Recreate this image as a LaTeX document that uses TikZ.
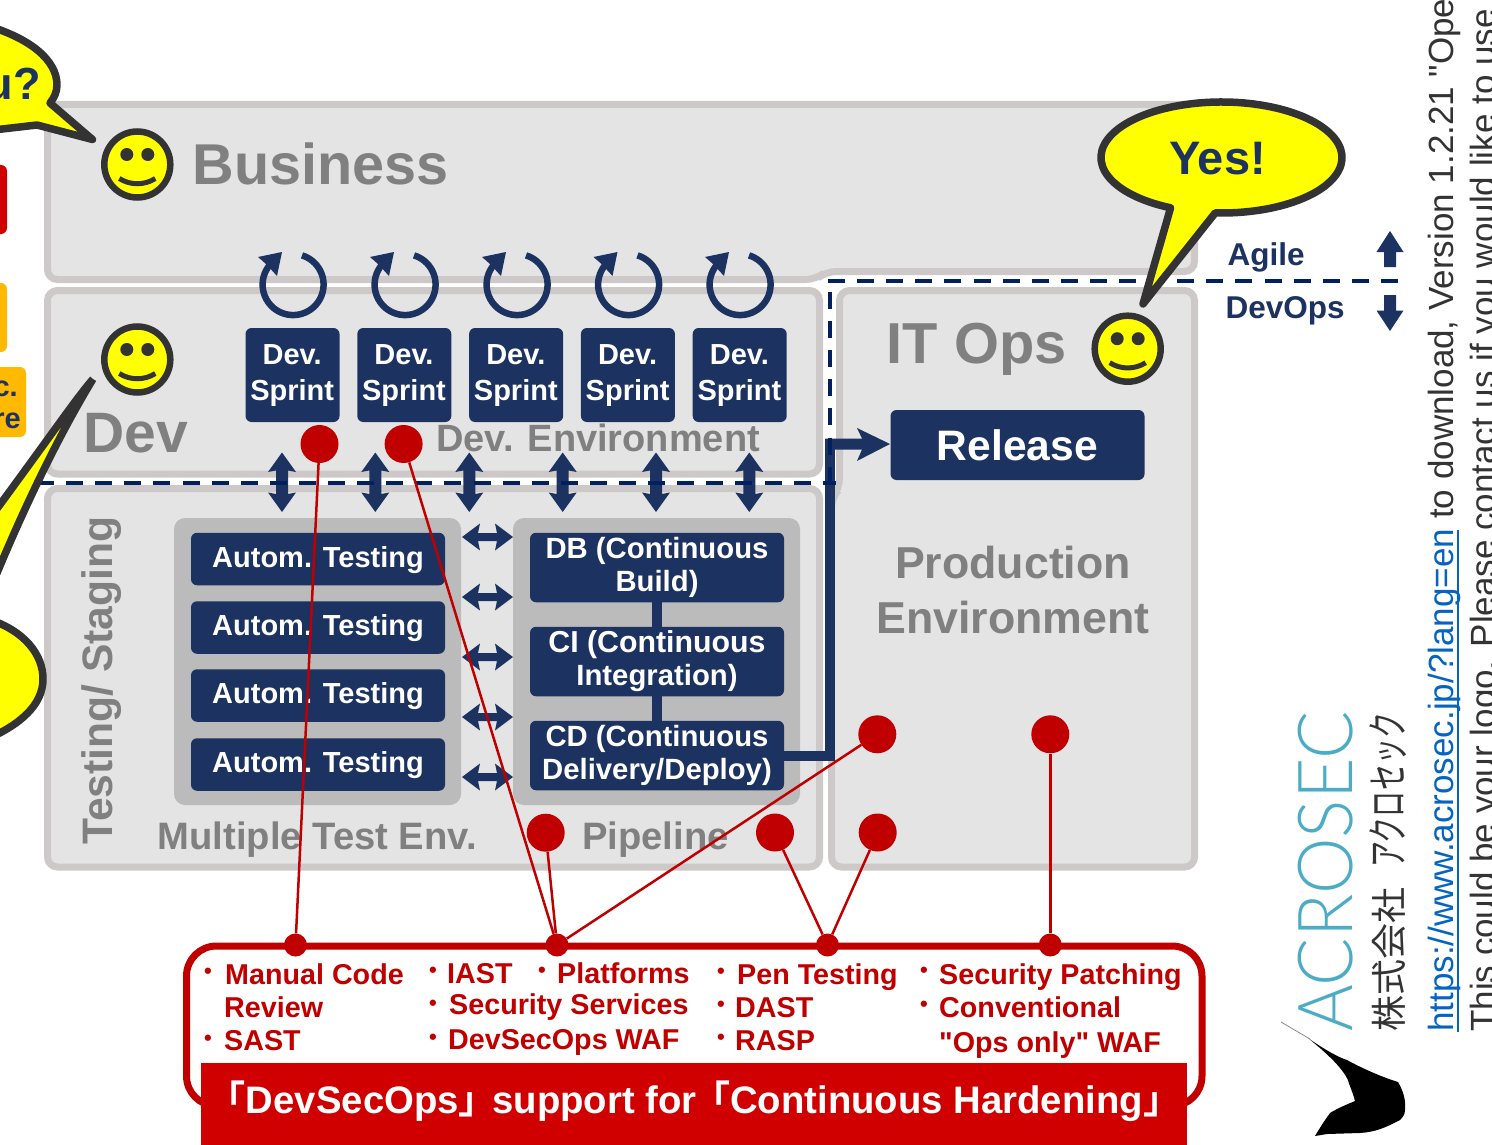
\documentclass[tikz,border=0pt]{standalone}
\usepackage{fontspec}
\setmainfont{Liberation Sans}[Ligatures=TeXOff]
\newfontfamily\cjkb[BoldFont={Noto Sans CJK JP Bold}]{Noto Sans CJK JP}
\newfontfamily\cjkn{Noto Sans CJK JP}
\newfontfamily\cjkc[FakeStretch=0.62]{Noto Sans CJK JP}
\newfontfamily\acro[UprightFont=* Light,FakeStretch=0.94]{Lato}
\definecolor{navy}{HTML}{1C3260}
\definecolor{dashnavy}{HTML}{002060}
\definecolor{pfill}{HTML}{E4E4E4}
\definecolor{pline}{HTML}{CDC9C9}
\definecolor{ggroup}{HTML}{BBBBBB}
\definecolor{gtxt}{HTML}{808080}
\definecolor{rdot}{HTML}{C00000}
\definecolor{rban}{HTML}{D00000}
\definecolor{dk}{HTML}{333333}
\definecolor{orangeb}{HTML}{FFB900}
\definecolor{linkb}{HTML}{0563C1}
\definecolor{acroc}{HTML}{4BACC6}
\definecolor{yel}{HTML}{FFFF00}
\newcommand\fsb[1]{\fontsize{#1}{#1}\selectfont\bfseries}
\newcommand\lbk{\kern.1em{\cjkb\bfseries ｢}}
\newcommand\rbk{{\cjkb\bfseries ｣}\kern.1em}
\newcommand\smiley[2]{%
  \filldraw[fill=yel,draw=dk,line width=6.5pt] (#1,#2) circle (33);
  \fill[dk] ({#1-10.5},{#2-10}) circle (6.5) ({#1+10.5},{#2-10}) circle (6.5);
  \draw[dk,line width=5pt] ({#1-18},{#2+14}) .. controls ({#1-7},{#2+21}) and ({#1+7},{#2+21}) .. ({#1+18},{#2+14});}
\newcommand\dblv[3]{\fill[navy] (#1,#2) -- ({#1+14},{#2+19.5}) -- ({#1+6},{#2+18}) -- ({#1+6},{#3-18}) -- ({#1+14},{#3-19.5}) -- (#1,#3) -- ({#1-14},{#3-19.5}) -- ({#1-6},{#3-18}) -- ({#1-6},{#2+18}) -- ({#1-14},{#2+19.5}) -- cycle;}
\newcommand\dblh[3]{\fill[navy] (#1,#3) -- ({#1+18},{#3-13.5}) -- ({#1+16},{#3-4}) -- ({#2-16},{#3-4}) -- ({#2-18},{#3-13.5}) -- (#2,#3) -- ({#2-18},{#3+13.5}) -- ({#2-16},{#3+4}) -- ({#1+16},{#3+4}) -- ({#1+18},{#3+13.5}) -- cycle;}
\newcommand\cycarrow[1]{%
  \draw[navy,line width=6.5pt] ({#1+9},{284.6-29.2}) arc[start angle=-73,end angle=222,radius=30.5];
  \fill[navy] ({#1-11},252) -- ({#1-35},257) -- ({#1-27},264) -- ({#1-16},276) -- cycle;}
\tikzset{
  panel/.style={draw=pline,fill=pfill,line width=7pt,rounded corners=10pt},
  groupbox/.style={fill=ggroup,rounded corners=11pt},
  navybox/.style={fill=navy,text=white,rounded corners=6pt,inner sep=0pt,align=center},
  gt/.style={text=gtxt,inner sep=0pt,anchor=base west},
  rt/.style={text=rdot,inner sep=0pt,anchor=base west,font=\fsb{28.7}},
  bul/.style={text=rdot,inner sep=0pt,font=\fsb{22}},
  bigdot/.style={circle,fill=rdot,minimum size=38pt,inner sep=0pt},
  smalldot/.style={circle,fill=rdot,minimum size=23pt,inner sep=0pt},
  rline/.style={draw=rdot,line width=2.5pt},
  bubble/.style={fill=yel,draw=dk,line width=7.5pt,line join=round},
  sidetxt/.style={rotate=90,anchor=base west,inner sep=0pt},
  dashln/.style={dashnavy,line width=4pt,dash pattern=on 17pt off 12.1pt},
}
\begin{document}
\begin{tikzpicture}[x=1pt,y=-1pt]
\path[use as bounding box] (0,0) rectangle (1492,1145);
\clip (0,0) rectangle (1492,1145);
\fill[white] (0,0) rectangle (1492,1145);
% panels
\draw[panel] (47.5,104.5) -- (1194.5,104.5) -- (1194.5,271.5) -- (826,271.5) -- (816,279.5) -- (47.5,279.5) -- cycle;
\draw[panel] (47.5,290.5) rectangle (819.5,474);
\draw[panel] (47.5,488.5) rectangle (819.5,867);
\draw[panel] (839.5,290.5) -- (1194.5,290.5) -- (1194.5,867) -- (831.5,867) -- (831.5,498) -- (839.5,489) -- cycle;
% left cropped boxes
\fill[rban,rounded corners=6pt] (-20,165) rectangle (7,234);
\fill[orangeb,rounded corners=6pt] (-20,283) rectangle (7,352);
\fill[orangeb,rounded corners=6pt] (-20,367) rectangle (26,437);
\node[text=navy,inner sep=0pt,anchor=base east,font=\fsb{29}] (oa) at (18,396) {c.};
\node[text=navy,inner sep=0pt,anchor=base east,font=\fsb{29}] (ob) at (21,428) {re};
% titles
\node[gt,font=\fsb{57.6}] (biz) at (192.5,185) {Business};
\node[gt,font=\fsb{57}] (dev) at (83.5,452) {Dev};
\node[gt,font=\fsb{57.8}] (itops) at (886.5,363) {IT Ops};
\node[gt,font=\fsb{38}] (devenv) at (436,451) {Dev. Environment};
\node[gt,font=\fsb{38.2}] (multi) at (157.5,849) {Multiple Test Env.};
\node[gt,font=\fsb{38.2}] (pipe) at (582,849) {Pipeline};
\node[gt,font=\fsb{42.6},rotate=90] (testing) at (112,845) {Testing/ Staging};
\node[text=gtxt,inner sep=0pt,align=center,font=\fontsize{44.7}{55}\selectfont\bfseries] (prod) at (1013,590) {Production\\Environment};
% sprints
\foreach \n/\x in {1/292.5,2/404.3,3/516.1,4/627.9,5/739.7}{
  \node[navybox,minimum width=94pt,minimum height=94pt] (s\n) at (\x,375) {};
  \node[text=white,inner sep=0pt,align=center,font=\fontsize{29}{36}\selectfont\bfseries] (st\n) at (\x-0.3,376) {Dev.\\Sprint};
}
\cycarrow{293}\cycarrow{405}\cycarrow{517}\cycarrow{628.5}\cycarrow{740}
% groups
\fill[groupbox] (174,518) rectangle (461,805);
\fill[groupbox] (513,518) rectangle (800,805);
\foreach \n/\y in {1/559,2/627.5,3/695.5,4/764.5}{
  \node[navybox,minimum width=254pt,minimum height=52.5pt] (t\n) at (318,\y) {};
  \node[text=white,inner sep=0pt,font=\fsb{29}] (tt\n) at (318,\y+0.8) {Autom. Testing};
}
\node[navybox,minimum width=254pt,minimum height=69.5pt,font=\fontsize{29.3}{33}\selectfont\bfseries] (db) at (657,567.5) {\raisebox{-1pt}{DB (Continuous}\\\raisebox{-1pt}{Build)}};
\node[navybox,minimum width=254pt,minimum height=69.5pt,font=\fontsize{29.3}{33}\selectfont\bfseries] (ci) at (657,661.5) {\raisebox{-1pt}{\fontsize{30.3}{33}\selectfont CI (Continuous}\\\raisebox{-1pt}{Integration)}};
\node[navybox,minimum width=254pt,minimum height=69.5pt,font=\fontsize{29.3}{33}\selectfont\bfseries] (cd) at (657,755.5) {\raisebox{-1pt}{CD (Continuous}\\\raisebox{-1pt}{Delivery/Deploy)}};
\draw[navy,line width=10pt] (db) -- (ci);
\draw[navy,line width=10pt] (ci) -- (cd);
% double arrows
\foreach \x in {282,375.3,469.3,562.7,656,749.3}{\dblv{\x}{452.5}{512}}
\foreach \y in {537,597,657,717,777}{\dblh{462}{513}{\y}}
% release
\node[navybox,minimum width=254pt,minimum height=70pt,font=\fsb{42.6}] (rel) at (1017.5,445) {Release};
\coordinate (junc) at (830,756);
\draw[navy,line width=10pt,line join=miter] (cd.east |- junc) -- (junc) -- (830,439);
\fill[navy] (825,438.5) -- (862,438.5) -- (857,428) -- (890,444) -- (857,461) -- (862,449.5) -- (825,449.5) -- cycle;
% dashed
\draw[dashln] (37,483) -- (836,483);
\draw[dashln] (830,292) -- (830,484);
\draw[dashln] (828,281) -- (1398,281);
% agile / devops
\node[gt,text=navy,font=\fsb{31.5}] (agile) at (1227.5,265) {Agile};
\node[gt,text=navy,font=\fsb{31.5}] (devops) at (1225.5,318) {DevOps};
\fill[navy] (1390,231) -- (1403.5,252) -- (1396,252) -- (1396,267) -- (1384,267) -- (1384,252) -- (1376.5,252) -- cycle;
\fill[navy] (1390,331) -- (1403.5,310.5) -- (1396,310.5) -- (1396,295) -- (1384,295) -- (1384,310.5) -- (1376.5,310.5) -- cycle;
% red frame
\draw[rdot,line width=7pt,rounded corners=30pt] (186.5,946) rectangle (1202,1106);
\node[fill=rban,minimum width=986pt,minimum height=83pt,inner sep=0pt] (ban) at (694,1104) {};
\node[text=white,inner sep=0pt,font=\fsb{38.3}] (bant) at (694.5,1101) {\lbk DevSecOps\rbk{} support for \lbk Continuous Hardening\rbk};
% red dots
\node[bigdot] (r1) at (319.5,444) {};
\node[bigdot] (r2) at (403.6,444) {};
\node[bigdot] (r3) at (545.7,832.7) {};
\node[bigdot] (r4) at (775,832.5) {};
\node[bigdot] (r5) at (877.7,832.5) {};
\node[bigdot] (r6) at (877.3,734.3) {};
\node[bigdot] (r7) at (1050.3,734.3) {};
\node[smalldot] (f1) at (295.5,945) {};
\node[smalldot] (f2) at (557,945) {};
\node[smalldot] (f3) at (827.5,945) {};
\node[smalldot] (f4) at (1050.3,945) {};
\draw[rline] (r1) -- (f1);
\draw[rline] (r2) -- (f2);
\draw[rline] (r3) -- (f2);
\draw[rline] (r6) -- (f2);
\draw[rline] (r4) -- (f3);
\draw[rline] (r5) -- (f3);
\draw[rline] (r7) -- (f4);
% list text
\node[rt] (a1) at (225,984) {Manual Code};
\node[rt] (a2) at (224,1017) {Review};
\node[rt] (a3) at (224,1050) {SAST};
\node[rt] (b1) at (447,983) {IAST};
\node[rt] (b2) at (557,983) {Platforms};
\node[rt] (b3) at (449,1014) {Security Services};
\node[rt] (b4) at (448,1049) {DevSecOps WAF};
\node[rt] (c1) at (737,984) {Pen Testing};
\node[rt] (c2) at (735,1017) {DAST};
\node[rt] (c3) at (735,1050) {RASP};
\node[rt] (d1) at (939,984) {Security Patching};
\node[rt] (d2) at (939,1017) {Conventional};
\node[rt] (d3) at (939,1052) {"Ops only" WAF};
\foreach \n/\x/\y in {p1/208/973,p2/208/1040,p3/433/972,p4/542/972,p5/433/1005,p6/433/1039,p7/721/973,p8/721/1006,p9/721/1039,p10/924/972,p11/924/1006}{
  \node[bul] (\n) at (\x,\y) {•};
}
% smileys
\smiley{137.3}{164.5}
\smiley{137.3}{359.5}
\smiley{1127.7}{348.7}
% bubbles
\draw[bubble] ({1221.5+120.5*cos(115)},{157.5+55.5*sin(115)}) arc[start angle=115,end angle=453,x radius=120.5,y radius=55.5] -- (1143,304) -- cycle;
\node[text=navy,inner sep=0pt,anchor=base,font=\fsb{47}] (yes) at (1217.5,175) {Yes!};
\draw[bubble] (-15,25) .. controls (30,38) and (57,60) .. (57,85) .. controls (57,92) and (54,98) .. (50,103) -- (92.5,139.5) -- (37,125) -- (-15,131);
\node[text=navy,inner sep=0pt,anchor=base east,font=\fsb{45}] (you) at (41,100) {u?};
\draw[bubble] (93,379) .. controls (75,400) and (55,430) .. (-15,525) -- (-15,600) -- (-3,573) .. controls (15,530) and (50,450) .. (93,379);
\draw[bubble] (-15,618) .. controls (25,630) and (43,655) .. (43,679) .. controls (43,705) and (20,725) .. (-15,740);
% right side
\node[sidetxt,text=acroc,font=\acro\fontsize{76}{76}\selectfont] (acrosec) at (1352,1032) {ACROSEC};
\node[sidetxt,text=dk,font=\cjkn\fontsize{36}{36}\selectfont] (kk) at (1402,1032) {株式会社};
\node[sidetxt,text=dk,font=\cjkc\fontsize{42}{42}\selectfont] (kt) at (1403.5,868) {アクロセック};
\node[sidetxt,text=linkb,font=\fontsize{35}{35}\selectfont] (link) at (1453,1032) {https://www.acrosec.jp/?lang=en};
\node[sidetxt,text=dk,font=\fontsize{35}{35}\selectfont] (rest) at (link.base east) {\ to download, Version 1.2.21 "Ope};
\node[sidetxt,text=dk,font=\fontsize{35}{35}\selectfont] (logo) at (1495,1032) {This could be your logo. Please contact us if you would like to use};
\draw[linkb,line width=2.5pt] (1458,1032) -- (1458,530);
% bird
\fill[black,line join=round] (1308,1038) .. controls (1325,1050) and (1340,1058) .. (1347,1060) .. controls (1365,1070) and (1385,1078) .. (1398,1082) .. controls (1404,1092) and (1406,1102) .. (1405,1110) .. controls (1405,1115) and (1402,1118) .. (1400,1120) .. controls (1385,1128) and (1375,1132) .. (1360,1133) -- (1327,1134) -- (1315,1136) -- (1323,1123) -- (1330,1113) .. controls (1338,1108) and (1348,1104) .. (1355,1101) .. controls (1352,1090) and (1348,1082) .. (1348,1080) .. controls (1342,1068) and (1330,1056) .. (1308,1038) -- cycle;
\draw[gray,line width=.7pt] (1281,1022) -- (1310,1039);
\end{tikzpicture}
\end{document}
